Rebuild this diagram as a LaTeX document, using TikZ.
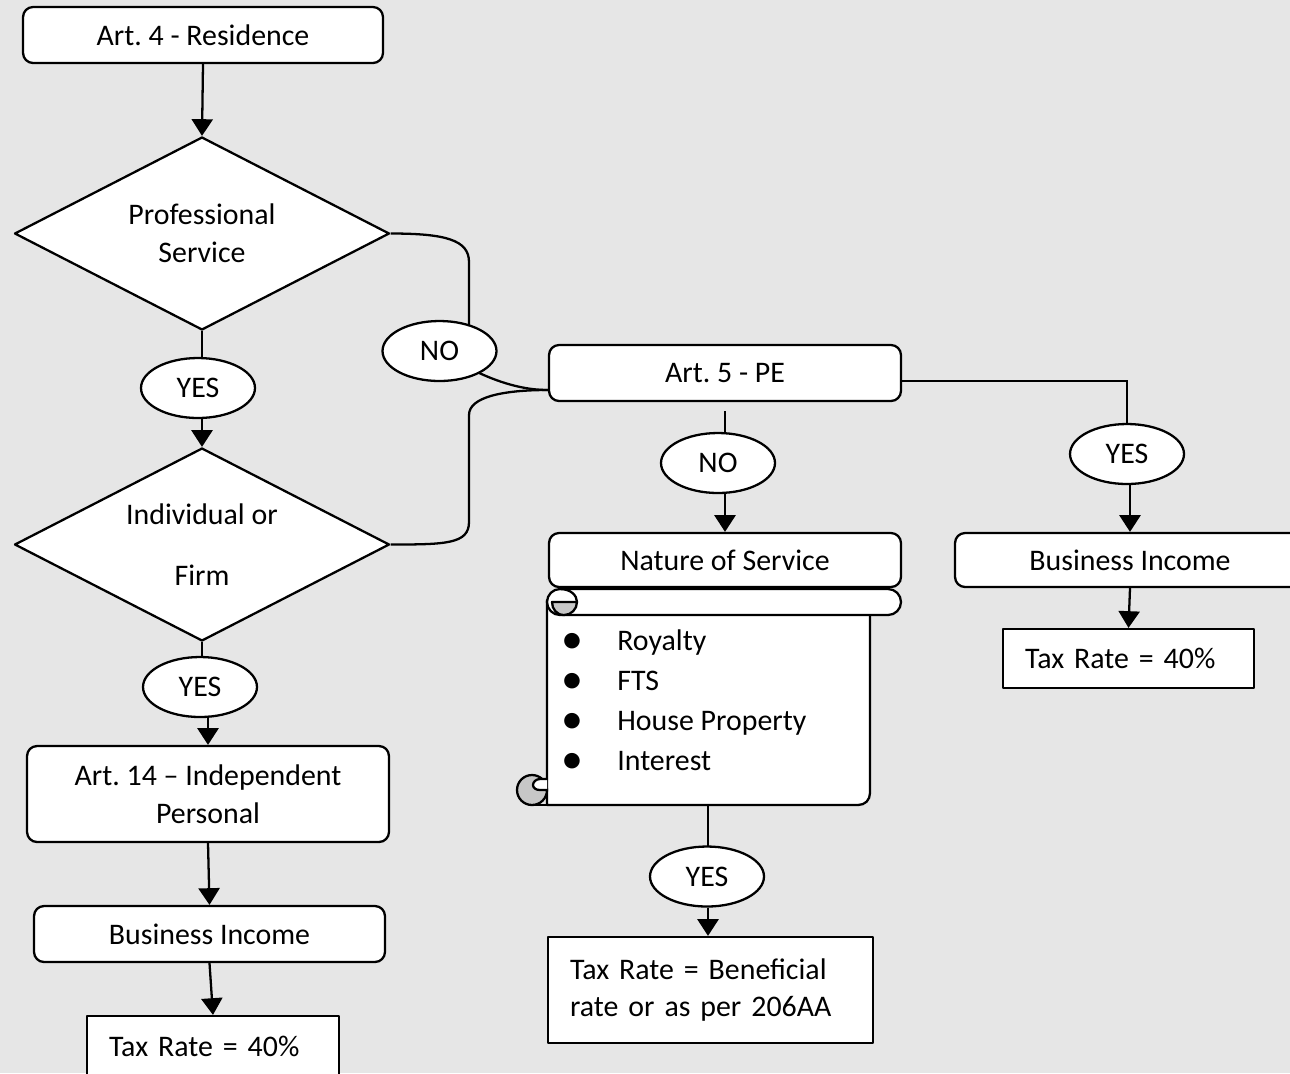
\documentclass[tikz,border=0pt]{standalone}
\usepackage{fontspec}
\setmainfont{Carlito}
\usetikzlibrary{arrows.meta,shapes.geometric}
\definecolor{ebebeb}{rgb}{0.902,0.902,0.902}
\definecolor{cbcbcb}{rgb}{0.78,0.78,0.78}
\pgfdeclarelayer{paper}
\pgfdeclarelayer{links}
\pgfsetlayers{paper,links,main}
\frenchspacing
\tikzset{
	thick line/.style={line width=1.3pt},
	arr/.style={-{Triangle[length=9.5pt,width=12pt]}},
	box/.style={draw,thick line,fill=white,rounded corners=0.2cm,inner sep=0pt,minimum height=1.12cm,align=center},
	sqbox/.style={draw,thick line,fill=white,inner xsep=0.44cm,inner ysep=0pt,align=left},
	dia/.style={draw,thick line,fill=white,diamond,aspect=2,inner sep=0pt,minimum width=7.5cm,minimum height=3.86cm,align=center},
	oval/.style={draw,thick line,fill=white,ellipse,inner sep=0pt,minimum width=2.28cm,minimum height=1.2cm}
}

\begin{document}
\begin{tikzpicture}[line cap=round,line join=round,x=0.02cm,y=-0.02cm,thick line,font=\fontsize{17}{21.5}\selectfont]
	\useasboundingbox (0,0) rectangle (1290,1073);
	\clip (0,0) rectangle (1290,1073);
	\begin{pgfonlayer}{paper}
	\fill[ebebeb] (0,0) rectangle (1290,1073);
	\end{pgfonlayer}
	% left column
	\node[box,minimum width=7.2cm] (art4) at (203,35) {Art. 4 - Residence};
	\node[dia] (psd) at (202,233.5) {Professional\\Service};
	\node[oval] (yes1) at (198,388) {YES};
	\node[dia] (ifd) at (202,544.5) {Individual or\\[13pt]Firm};
	\node[oval] (yes2) at (200,687) {YES};
	\node[box,minimum width=7.24cm,minimum height=1.92cm] (art14) at (208,794) {Art. 14 – Independent\\Personal};
	\node[box,minimum width=7.02cm] (bi1) at (209.5,934) {Business Income};
	\node[sqbox,text width=4.16cm,minimum height=1.2cm] (tax1) at (213,1046) {Tax Rate = 40\%};
	% middle column
	\node[oval] (no1) at (439.5,351) {NO};
	\node[box,minimum width=7.04cm] (pe) at (725,373) {Art. 5 - PE};
	\node[oval] (no2) at (718,463) {NO};
	\node[box,minimum width=7.04cm,minimum height=1.08cm] (nat) at (725,560) {Nature of Service};
	% scroll
	\begin{scope}[thick line]
	\draw[fill=white] (547,600) -- (547,805) -- (858,805) .. controls (865,805) and (870,800) .. (870,793) -- (870,600);
	\draw[fill=white,rounded corners=0.26cm] (547,589) rectangle (901,615);
	\draw[fill=cbcbcb] (577,602) .. controls (577,609.2) and (571.2,615) .. (564,615) .. controls (556.8,615) and (552,609.2) .. (552,602) -- cycle;
	\draw (560,589) .. controls (570,589) and (577,594.8) .. (577,602);
	\draw (532,805) -- (547,805);
	\draw[fill=cbcbcb] (532,790) circle[radius=15];
	\draw[fill=white] (547,779) -- (540,779) .. controls (536,779) and (533,782) .. (533,785) .. controls (533,788) and (536,790) .. (540,790) -- (547,790);
	\end{scope}
	\foreach \i/\y/\t in {1/642/Royalty,2/682/FTS,3/722/House Property,4/762/Interest}
	{
	\node[anchor=base,inner sep=0pt,font=\fontsize{25}{25}\selectfont] (bul\i) at (572,\y+11) {\textbullet};
	\node[anchor=base west,inner sep=0pt] (item\i) at (617,\y+8) {\t};
	}
	\coordinate (scrollbot) at (708,805);
	\node[oval] (yes3) at (707,876.5) {YES};
	\node[sqbox,text width=5.62cm,minimum height=2.12cm] (tax2) at (710.5,990) {Tax Rate = Beneficial\\rate or as per 206AA};
	% right column
	\node[oval] (yes4) at (1127,454) {YES};
	\node[box,minimum width=7cm,minimum height=1.08cm] (bi2) at (1130,560) {Business Income};
	\node[sqbox,text width=4.14cm,minimum height=1.18cm] (tax3) at (1128.5,658.5) {Tax Rate = 40\%};
	% connectors
	\begin{pgfonlayer}{links}
	\begin{scope}[thick line]
	\draw[arr] (art4.south) -- (psd.north);
	\draw (psd.south) -- (psd.south |- yes1.center);
	\draw[arr] (psd.south |- yes1.south) -- (ifd.north);
	\draw (ifd.south) -- (ifd.south |- yes2.center);
	\draw[arr] (art14.north |- yes2.south) -- (art14.north);
	\draw[arr] (art14.south) -- (bi1.north);
	\draw[arr] (bi1.south) -- (tax1.north);
	\coordinate (cu) at (469,262);
	\coordinate (cl) at (469,522);
	\coordinate (cm) at (469,415);
	\coordinate (pejoin) at ([yshift=-0.34cm]pe.west);
	\draw (psd.east) .. controls +(55,0) and +(0,-22) .. (cu) -- (cu |- no1.center);
	\draw (no1.center) .. controls +(30,19) and +(-40,0) .. (pejoin);
	\draw (ifd.east) .. controls +(55,0) and +(0,22) .. (cl) -- (cm) .. controls +(0,-18) and +(-45,0) .. (pejoin);
	\draw[shorten <=0.18cm] (pe.south) -- (pe.south |- no2.center);
	\draw[arr] (pe.south |- no2.south) -- (nat.north);
	\draw (scrollbot) -- (scrollbot |- yes3.center);
	\draw[arr] (scrollbot |- yes3.south) -- (scrollbot |- tax2.north);
	\draw ([yshift=-0.16cm]pe.east) -| (yes4.center);
	\draw[arr] (bi2.north |- yes4.south) -- (bi2.north);
	\draw[arr] (bi2.south) -- (tax3.north);
	\end{scope}
	\end{pgfonlayer}
\end{tikzpicture}
\end{document}
